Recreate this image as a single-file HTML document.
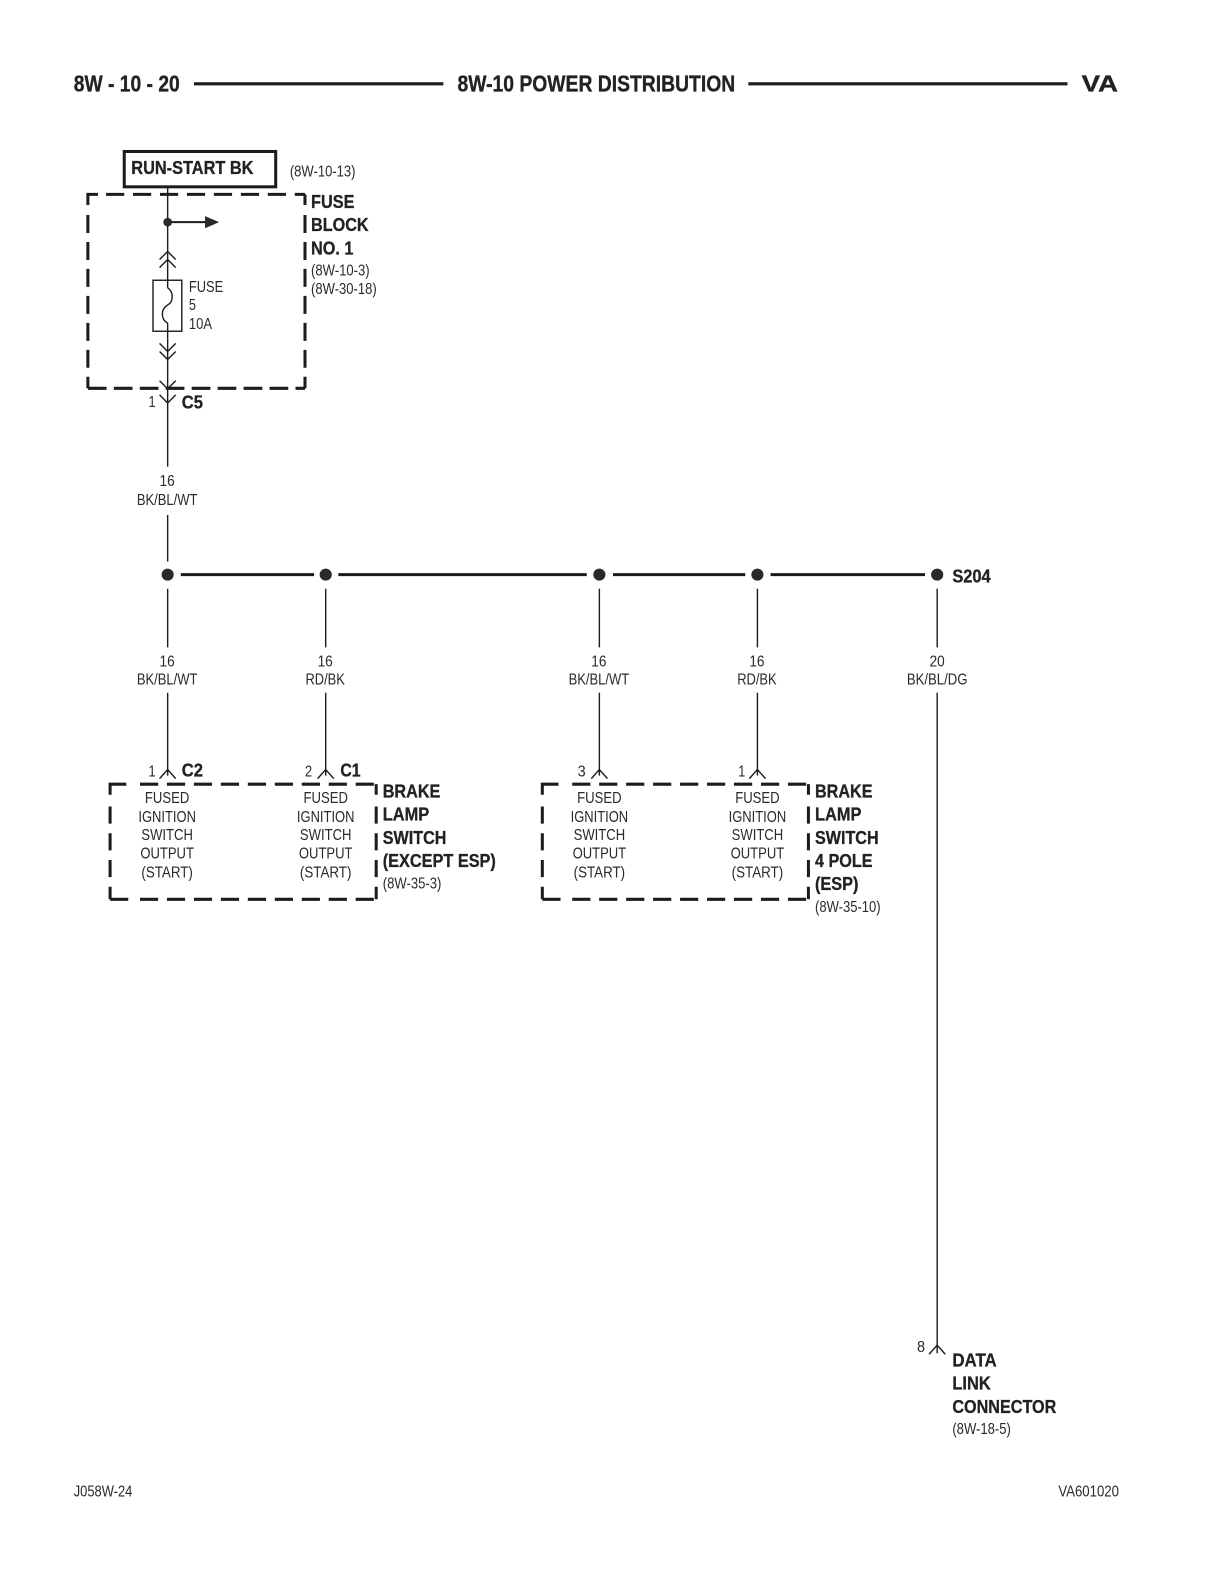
<!DOCTYPE html>
<html><head><meta charset="utf-8"><style>
html,body{margin:0;padding:0;background:#fff}
svg{display:block}
text{font-family:"Liberation Sans",sans-serif;fill:#2a2a2a}
.b{font-weight:bold;font-size:18.500px;fill:#222;stroke:#222;stroke-width:.3px}
.h{font-weight:bold;font-size:23px;fill:#222;stroke:#222;stroke-width:.35px}
.s{font-size:15.500px}
.m{text-anchor:middle}
</style></head><body>
<svg width="1224" height="1584" viewBox="0 0 1212 1568.500" xmlns="http://www.w3.org/2000/svg">
<g stroke="#1c1c1c" fill="none">
<path d="M192 83H439M741 83H1057" stroke-width="3"/>
<rect x="123" y="150" width="150" height="35" stroke-width="3"/>
<g stroke-width="3">
<path d="M87 203V192.500H97M302 203V192.500"/>
<path d="M105 192.500H302" stroke-dasharray="18 8.700"/>
<path d="M87 384.500H302" stroke-dasharray="18.500 7.200"/>
<path d="M87 212.900V384.500" stroke-dasharray="17.800 8.900"/>
<path d="M302 212.900V384.500" stroke-dasharray="17.800 8.900"/>

<path d="M109 787V776.500H125M372.500 787V776.500"/>
<path d="M138.600 776.500H372.500" stroke-dasharray="18 8.700"/>
<path d="M109 890.500H127"/>
<path d="M138.600 890.500H372.500" stroke-dasharray="18 8.700"/>
<path d="M109 798.600V890.500" stroke-dasharray="17 9.500"/>
<path d="M372.500 798.600V890.500" stroke-dasharray="17 9.500"/>

<path d="M537 787V776.500H553M800.500 787V776.500"/>
<path d="M566.600 776.500H800.500" stroke-dasharray="18 8.700"/>
<path d="M537 890.500H555"/>
<path d="M566.600 890.500H800.500" stroke-dasharray="18 8.700"/>
<path d="M537 798.600V890.500" stroke-dasharray="17 9.500"/>
<path d="M800.500 798.600V890.500" stroke-dasharray="17 9.500"/>
</g>
<g stroke-width="1.400">
<path d="M166 186V285M166 320V462M166 510V556M166 583V641M166 686V768"/>
<path d="M322.500 583V641M322.500 686V768M593.500 583V641M593.500 686V768M750 583V641M750 686V768M928 583V641M928 686V1340"/>
<path d="M158 257L166 249L174 257M158 265L166 257L174 265"/>
<path d="M158 340L166 348L174 340M158 348L166 356L174 348"/>
<path d="M158 377L166 385L174 377M158 391L166 399L174 391"/>
<path d="M158 771L166 762L174 771M314.500 771L322.500 762L330.500 771M585.500 771L593.500 762L601.500 771M742 771L750 762L758 771M920 1341L928 1332L936 1341"/>
<rect x="151.500" y="277.500" width="28.500" height="50.500"/>
<path d="M166 285C172 289 172 299 166 302C159 306 159 316 166 320"/>
</g>
<path d="M166 220H205" stroke-width="2"/>
<path d="M179 569H311M335 569H581M607 569H738M763 569H916" stroke-width="3"/>
</g>
<g fill="#2a2a2a">
<path d="M203 214L217 220L203 226Z"/>
<circle cx="166" cy="220" r="4.300"/>
<circle cx="166" cy="569" r="6"/><circle cx="322.500" cy="569" r="6"/><circle cx="593.500" cy="569" r="6"/><circle cx="750" cy="569" r="6"/><circle cx="928" cy="569" r="6"/>
</g>

<text class="h" x="73" y="90.500" textLength="105" lengthAdjust="spacingAndGlyphs">8W - 10 - 20</text>
<text class="h" x="453" y="90.500" textLength="275" lengthAdjust="spacingAndGlyphs">8W-10 POWER DISTRIBUTION</text>
<text class="h" x="1071" y="90.500" textLength="36" lengthAdjust="spacingAndGlyphs">VA</text>

<text class="b" x="130" y="172.500" textLength="121" lengthAdjust="spacingAndGlyphs">RUN-START BK</text>
<text class="s" x="287" y="175" textLength="65" lengthAdjust="spacingAndGlyphs">(8W-10-13)</text>

<text class="b" x="308" y="206" textLength="43" lengthAdjust="spacingAndGlyphs">FUSE</text>
<text class="b" x="308" y="228.500" textLength="57" lengthAdjust="spacingAndGlyphs">BLOCK</text>
<text class="b" x="308" y="252" textLength="42" lengthAdjust="spacingAndGlyphs">NO. 1</text>
<text class="s" x="308" y="273" textLength="58" lengthAdjust="spacingAndGlyphs">(8W-10-3)</text>
<text class="s" x="308" y="291" textLength="65" lengthAdjust="spacingAndGlyphs">(8W-30-18)</text>

<text class="s" x="187" y="289" textLength="34" lengthAdjust="spacingAndGlyphs">FUSE</text>
<text class="s" x="187" y="307" textLength="7" lengthAdjust="spacingAndGlyphs">5</text>
<text class="s" x="187" y="326" textLength="23" lengthAdjust="spacingAndGlyphs">10A</text>

<text class="s" x="147" y="403" textLength="7" lengthAdjust="spacingAndGlyphs">1</text>
<text class="b" x="180" y="404.500" textLength="21" lengthAdjust="spacingAndGlyphs">C5</text>

<text class="s m" x="165.500" y="481" textLength="15" lengthAdjust="spacingAndGlyphs">16</text>
<text class="s m" x="165.500" y="500" textLength="60" lengthAdjust="spacingAndGlyphs">BK/BL/WT</text>

<text class="b" x="943" y="577" textLength="38" lengthAdjust="spacingAndGlyphs">S204</text>

<text class="s m" x="165.500" y="660" textLength="15" lengthAdjust="spacingAndGlyphs">16</text>
<text class="s m" x="165.500" y="678" textLength="60" lengthAdjust="spacingAndGlyphs">BK/BL/WT</text>
<text class="s m" x="322" y="660" textLength="15" lengthAdjust="spacingAndGlyphs">16</text>
<text class="s m" x="322" y="678" textLength="39" lengthAdjust="spacingAndGlyphs">RD/BK</text>
<text class="s m" x="593" y="660" textLength="15" lengthAdjust="spacingAndGlyphs">16</text>
<text class="s m" x="593" y="678" textLength="60" lengthAdjust="spacingAndGlyphs">BK/BL/WT</text>
<text class="s m" x="749.500" y="660" textLength="15" lengthAdjust="spacingAndGlyphs">16</text>
<text class="s m" x="749.500" y="678" textLength="39" lengthAdjust="spacingAndGlyphs">RD/BK</text>
<text class="s m" x="928" y="660" textLength="15" lengthAdjust="spacingAndGlyphs">20</text>
<text class="s m" x="928" y="678" textLength="60" lengthAdjust="spacingAndGlyphs">BK/BL/DG</text>

<text class="s" x="147" y="769" textLength="7" lengthAdjust="spacingAndGlyphs">1</text>
<text class="b" x="180" y="769" textLength="21" lengthAdjust="spacingAndGlyphs">C2</text>
<text class="s" x="302" y="769" textLength="7" lengthAdjust="spacingAndGlyphs">2</text>
<text class="b" x="337" y="769" textLength="20" lengthAdjust="spacingAndGlyphs">C1</text>
<text class="s" x="572" y="769" textLength="8" lengthAdjust="spacingAndGlyphs">3</text>
<text class="s" x="731" y="769" textLength="7" lengthAdjust="spacingAndGlyphs">1</text>

<text class="s m" x="165.500" y="795" textLength="44" lengthAdjust="spacingAndGlyphs">FUSED</text>
<text class="s m" x="165.500" y="814" textLength="57" lengthAdjust="spacingAndGlyphs">IGNITION</text>
<text class="s m" x="165.500" y="832" textLength="51" lengthAdjust="spacingAndGlyphs">SWITCH</text>
<text class="s m" x="165.500" y="850" textLength="53" lengthAdjust="spacingAndGlyphs">OUTPUT</text>
<text class="s m" x="165.500" y="869" textLength="51" lengthAdjust="spacingAndGlyphs">(START)</text>
<text class="s m" x="322.500" y="795" textLength="44" lengthAdjust="spacingAndGlyphs">FUSED</text>
<text class="s m" x="322.500" y="814" textLength="57" lengthAdjust="spacingAndGlyphs">IGNITION</text>
<text class="s m" x="322.500" y="832" textLength="51" lengthAdjust="spacingAndGlyphs">SWITCH</text>
<text class="s m" x="322.500" y="850" textLength="53" lengthAdjust="spacingAndGlyphs">OUTPUT</text>
<text class="s m" x="322.500" y="869" textLength="51" lengthAdjust="spacingAndGlyphs">(START)</text>
<text class="s m" x="593.500" y="795" textLength="44" lengthAdjust="spacingAndGlyphs">FUSED</text>
<text class="s m" x="593.500" y="814" textLength="57" lengthAdjust="spacingAndGlyphs">IGNITION</text>
<text class="s m" x="593.500" y="832" textLength="51" lengthAdjust="spacingAndGlyphs">SWITCH</text>
<text class="s m" x="593.500" y="850" textLength="53" lengthAdjust="spacingAndGlyphs">OUTPUT</text>
<text class="s m" x="593.500" y="869" textLength="51" lengthAdjust="spacingAndGlyphs">(START)</text>
<text class="s m" x="750" y="795" textLength="44" lengthAdjust="spacingAndGlyphs">FUSED</text>
<text class="s m" x="750" y="814" textLength="57" lengthAdjust="spacingAndGlyphs">IGNITION</text>
<text class="s m" x="750" y="832" textLength="51" lengthAdjust="spacingAndGlyphs">SWITCH</text>
<text class="s m" x="750" y="850" textLength="53" lengthAdjust="spacingAndGlyphs">OUTPUT</text>
<text class="s m" x="750" y="869" textLength="51" lengthAdjust="spacingAndGlyphs">(START)</text>

<text class="b" x="379" y="789.500" textLength="57" lengthAdjust="spacingAndGlyphs">BRAKE</text>
<text class="b" x="379" y="812.500" textLength="46" lengthAdjust="spacingAndGlyphs">LAMP</text>
<text class="b" x="379" y="835.500" textLength="63" lengthAdjust="spacingAndGlyphs">SWITCH</text>
<text class="b" x="379" y="858.500" textLength="112" lengthAdjust="spacingAndGlyphs">(EXCEPT ESP)</text>
<text class="s" x="379" y="880" textLength="58" lengthAdjust="spacingAndGlyphs">(8W-35-3)</text>

<text class="b" x="807" y="789.500" textLength="57" lengthAdjust="spacingAndGlyphs">BRAKE</text>
<text class="b" x="807" y="812.500" textLength="46" lengthAdjust="spacingAndGlyphs">LAMP</text>
<text class="b" x="807" y="835.500" textLength="63" lengthAdjust="spacingAndGlyphs">SWITCH</text>
<text class="b" x="807" y="858.500" textLength="57" lengthAdjust="spacingAndGlyphs">4 POLE</text>
<text class="b" x="807" y="881.500" textLength="43" lengthAdjust="spacingAndGlyphs">(ESP)</text>
<text class="s" x="807" y="903" textLength="65" lengthAdjust="spacingAndGlyphs">(8W-35-10)</text>

<text class="s" x="908" y="1339" textLength="8" lengthAdjust="spacingAndGlyphs">8</text>
<text class="b" x="943" y="1353" textLength="44" lengthAdjust="spacingAndGlyphs">DATA</text>
<text class="b" x="943" y="1376" textLength="38" lengthAdjust="spacingAndGlyphs">LINK</text>
<text class="b" x="943" y="1399" textLength="103" lengthAdjust="spacingAndGlyphs">CONNECTOR</text>
<text class="s" x="943" y="1420" textLength="58" lengthAdjust="spacingAndGlyphs">(8W-18-5)</text>

<text class="s" x="73" y="1482" textLength="58" lengthAdjust="spacingAndGlyphs">J058W-24</text>
<text class="s" x="1048" y="1482" textLength="60" lengthAdjust="spacingAndGlyphs">VA601020</text>
</svg>
</body></html>
